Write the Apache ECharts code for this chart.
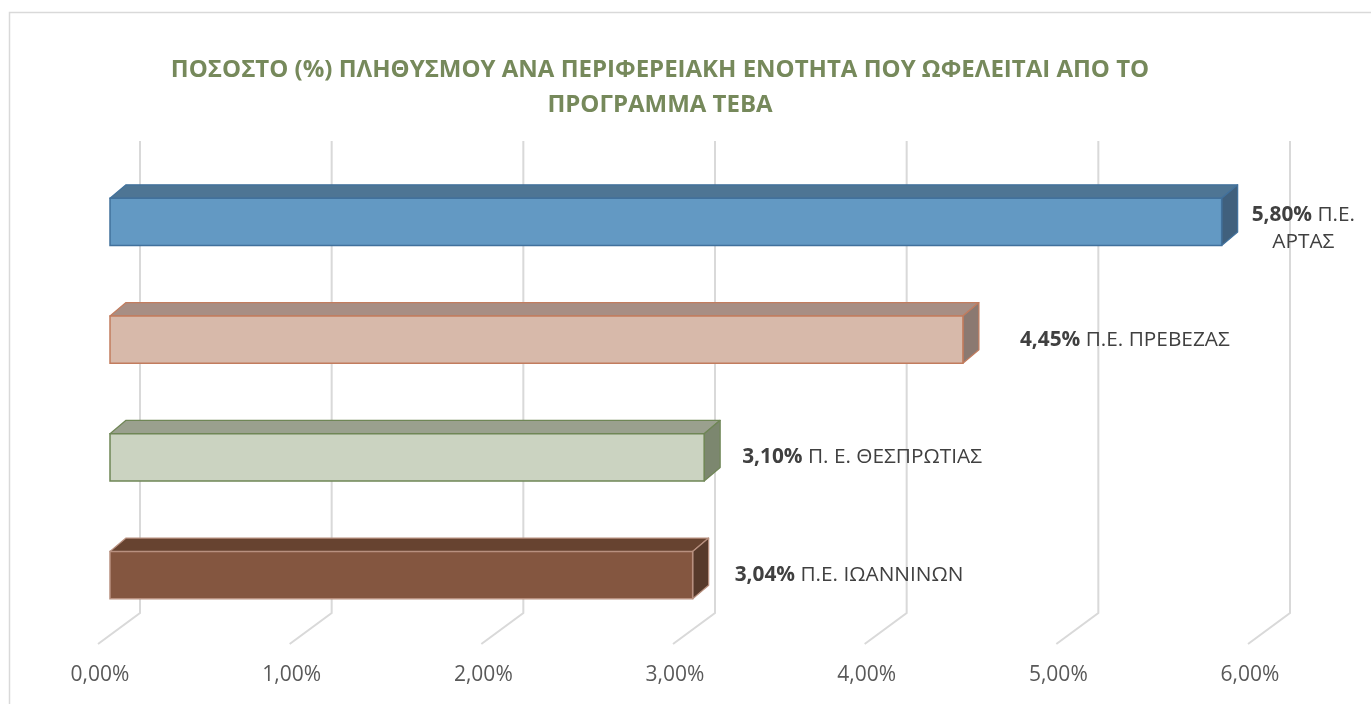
<!DOCTYPE html>
<html>
<head>
<meta charset="utf-8">
<script src="https://cdn.jsdelivr.net/npm/echarts@6/dist/echarts.min.js"></script>
<style>
html,body{margin:0;padding:0;background:#fff;}
#chart{width:1371px;height:704px;}
</style>
</head>
<body>
<div id="chart"></div>
<script>
// ---- data ----
const categories = ['Π.Ε. ΑΡΤΑΣ', 'Π.Ε. ΠΡΕΒΕΖΑΣ', 'Π. Ε. ΘΕΣΠΡΩΤΙΑΣ', 'Π.Ε. ΙΩΑΝΝΙΝΩΝ'];
const values = [5.80, 4.45, 3.10, 3.04];
const tickValues = [0, 1, 2, 3, 4, 5, 6];
const titleLines = ['ΠΟΣΟΣΤΟ (%) ΠΛΗΘΥΣΜΟΥ ΑΝΑ ΠΕΡΙΦΕΡΕΙΑΚΗ ΕΝΟΤΗΤΑ ΠΟΥ ΩΦΕΛΕΙΤΑΙ ΑΠΟ ΤΟ', 'ΠΡΟΓΡΑΜΜΑ ΤΕΒΑ'];

// ---- styles ----
const barStyles = [
  {front:'#6399c3', top:'#4e7594', side:'#40607d', stroke:'#41719c'},
  {front:'#d7b9aa', top:'#a78e84', side:'#8b7971', stroke:'#c27c5e'},
  {front:'#cbd3c1', top:'#9aa08e', side:'#7c876f', stroke:'#6f8656'},
  {front:'#845640', top:'#674330', side:'#573a2b', stroke:'#b8907f'}
];
const labelGaps = [14, 41, 22, 26];
const FONT = '"Open Sans", "Noto Sans", sans-serif';
const LABEL_SIZE = 20.8;

function fmt(v){ return v.toFixed(2).replace('.', ',') + '%'; }

const measureCtx = document.createElement('canvas').getContext('2d');
function textW(t, bold){
  measureCtx.font = (bold ? 'bold ' : '') + LABEL_SIZE + 'px ' + FONT;
  return measureCtx.measureText(t).width;
}

const chart = echarts.init(document.getElementById('chart'), null, {renderer:'canvas'});

const FRONT_SHIFT = 10, DX = 16, DY = -13.5;

function renderBar(params, api){
  const v = api.value(0), c = api.value(1);
  const p0 = api.coord([0, c]);
  const p1 = api.coord([v, c]);
  const band = api.size([0, 1])[1];
  const h = band * 0.40;
  const x0 = p0[0] + FRONT_SHIFT, x1 = p1[0] + FRONT_SHIFT;
  const yT = p0[1] - h / 2, yB = yT + h;
  const st = barStyles[params.dataIndex];
  const children = [
    {type:'polygon', shape:{points:[[x0,yT],[x0+DX,yT+DY],[x1+DX,yT+DY],[x1,yT]]},
      style:{fill:st.top, stroke:st.stroke, lineWidth:1.2, lineJoin:'round'}},
    {type:'polygon', shape:{points:[[x1,yT],[x1+DX,yT+DY],[x1+DX,yB+DY],[x1,yB]]},
      style:{fill:st.side, stroke:st.stroke, lineWidth:1.2, lineJoin:'round'}},
    {type:'rect', shape:{x:x0, y:yT, width:x1-x0, height:h},
      style:{fill:st.front, stroke:st.stroke, lineWidth:1.5}}
  ];
  // label
  const valTxt = fmt(v);
  const name = categories[params.dataIndex];
  const lx = x1 + DX + labelGaps[params.dataIndex];
  const avail = api.getWidth() - 10 - lx;
  const fullW = textW(valTxt, true) + textW(' ' + name, false);
  let text, align, x;
  if (fullW <= avail) {
    text = '{b|' + valTxt + '} ' + name;
    align = 'left'; x = lx;
  } else {
    const words = name.split(' ');
    let first = [], rest = [];
    let w = textW(valTxt, true);
    let broken = false;
    words.forEach(wd => {
      const ww = textW(' ' + wd, false);
      if (!broken && w + ww <= avail) { first.push(wd); w += ww; }
      else { broken = true; rest.push(wd); }
    });
    text = '{b|' + valTxt + '} ' + first.join(' ') + '\n' + rest.join(' ');
    align = 'center'; x = lx + w / 2;
  }
  children.push({
    type:'text',
    style:{
      text:text, x:x, y:(yT+yB)/2 + (align === 'center' ? 7 : 0),
      align:align, verticalAlign:'middle',
      fontFamily:FONT, fontSize:LABEL_SIZE, fill:'#404040', lineHeight:27,
      rich:{b:{fontWeight:'bold', fontFamily:FONT, fontSize:LABEL_SIZE, fill:'#404040', lineHeight:27}}
    }
  });
  return {type:'group', children:children};
}

function renderGrid(params, api){
  const v = api.value(0);
  const p = api.coord([v, 0]);
  const cs = params.coordSys;
  const floorY = cs.y + cs.height + 10;
  const bendY = floorY - 31;
  const topY = cs.y - 22;
  const fx = p[0] - 2, bx = fx + 42;
  return {
    type:'polyline',
    shape:{points:[[bx, topY],[bx, bendY],[fx, floorY]]},
    style:{stroke:'#d9d9d9', lineWidth:2, fill:null}
  };
}

const option = {
  backgroundColor:'#ffffff',
  animation:false,
  title:{
    text: titleLines.join('\n'),
    left: 655, top: 48, textAlign:'center',
    textStyle:{fontFamily:FONT, fontSize:24, fontWeight:'bold', color:'#76895b', lineHeight:35}
  },
  graphic:[{
    type:'rect', shape:{x:9.5, y:12.5, width:1400, height:800},
    style:{fill:null, stroke:'#d9d9d9', lineWidth:1.5}, silent:true, z:-10
  }],
  grid:{left:100, width:1150, top:163, height:471},
  xAxis:{
    type:'value', min:0, max:6, interval:1,
    axisLine:{show:false}, axisTick:{show:false}, splitLine:{show:false},
    axisLabel:{formatter:fmt, fontFamily:FONT, fontSize:21, color:'#595959', margin:31}
  },
  yAxis:{
    type:'category', data:categories, inverse:true,
    axisLine:{show:false}, axisTick:{show:false}, axisLabel:{show:false}, splitLine:{show:false}
  },
  series:[
    {type:'custom', renderItem:renderGrid, data:tickValues.map(v => [v, 0]),
      encode:{x:0, y:1}, z:1, silent:true, clip:false},
    {type:'custom', renderItem:renderBar, data:values.map((v, i) => [v, i]),
      encode:{x:0, y:1}, z:2, clip:false}
  ]
};
chart.setOption(option);
</script>
</body>
</html>
